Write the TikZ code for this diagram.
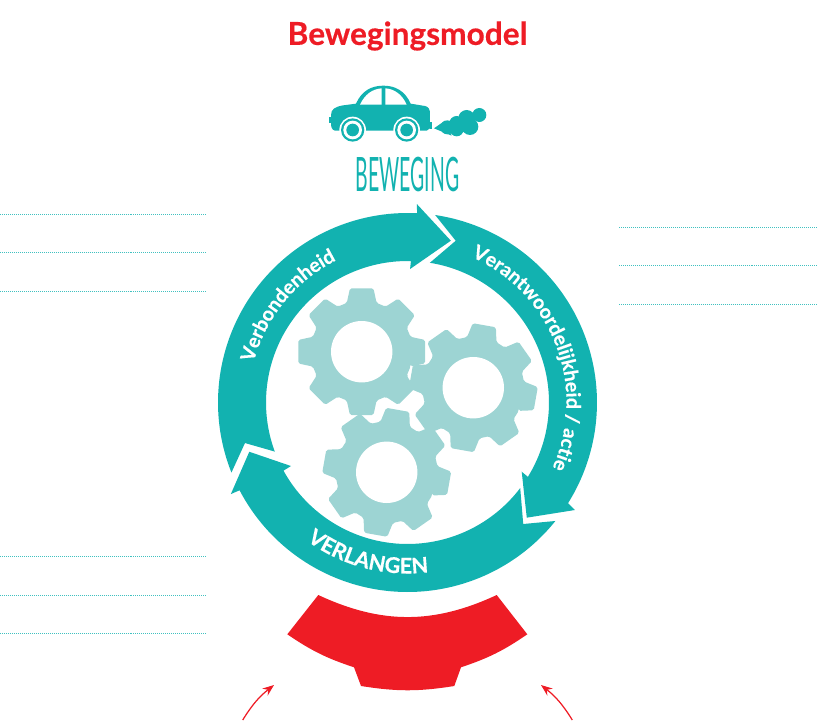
\documentclass[tikz,border=0pt]{standalone}
\usepackage{fontspec}
\setmainfont{Lato}
\newfontfamily\narrowfont[FakeStretch=0.41]{Lato}
\newfontfamily\heavyfont[UprightFont=* Bold, FakeBold=0.4]{Lato}
\usetikzlibrary{arrows.meta, decorations.text}
\definecolor{ringteal}{HTML}{12B2B0}
\definecolor{gearteal}{HTML}{9DD4D3}
\definecolor{modelred}{HTML}{EE1C25}
\tikzset{
  ringfill/.style={fill=ringteal},
  gearfill/.style={fill=gearteal, rounded corners=1pt},
  noteline/.style={ringteal!80, line width=0.5pt, dash pattern=on 0.567pt off 0.567pt},
  redarrow/.style={modelred, line width=0.7pt, -{Stealth[length=6.5pt, width=5pt]}},
}
\begin{document}
\begin{tikzpicture}[x=0.02cm, y=0.02cm]
	\useasboundingbox (0,0) rectangle (818,-720);

	\node[font=\heavyfont\fontsize{18}{20}\selectfont, text=modelred] (title) at (407.5,-36) {Bewegingsmodel};
	\node[font=\narrowfont\fontsize{27}{30}\selectfont, text=ringteal] (beweging) at (407.5,-175) {BEWEGING};

	% lines
	\foreach \y in {214,252.5,291,556.5,595,633}
		\draw[noteline] (0,-\y) -- (206,-\y);
	\foreach \y in {227,265.5,304}
		\draw[noteline] (619,-\y) -- (818,-\y);

	% car
	\begin{scope}[shift={(310,-70)}, x=0.00667cm, y=-0.00667cm]
		\fill[ringteal] (63,135) .. controls (63,118) and (75,110) .. (100,106) -- (138,101)
			.. controls (155,62) and (185,47) .. (220,47) .. controls (255,47) and (285,62) .. (302,101)
			-- (345,108) .. controls (355,110) and (360,118) .. (360,130) -- (360,175) -- (350,182)
			-- (75,182) .. controls (65,180) and (63,170) .. (63,160) -- cycle;
		\fill[ringteal] (56,140) rectangle (63,160);
		\fill[ringteal] (360,155) rectangle (367,178);
		\fill[white] (150,104) .. controls (165,72) and (188,57) .. (215,55) -- (215,104) -- cycle;
		\fill[white] (226,55) .. controls (255,57) and (277,75) .. (290,104) -- (226,104) -- cycle;
		\foreach \cx in {128,290} {
			\fill[white] (\cx,180) circle (40);
			\fill[ringteal] (\cx,180) circle (35);
			\fill[white] (\cx,180) circle (28);
			\fill[ringteal] (\cx,180) circle (19);
		}
		% smoke
		\fill[ringteal] (372,175) -- (405,152) -- (425,197) -- cycle;
		\foreach \cx/\cy/\r in {508/135/21, 470/145/25, 440/160/22, 480/170/25, 440/178/21, 412/172/21, 455/165/22}
			\fill[ringteal] (\cx,\cy) circle (\r);
	\end{scope}

	% gears
	\foreach \cx/\cy/\rot in {361.7/351.7/0, 473.3/387.7/-10, 386.7/472.3/-10} {
		\begin{scope}[shift={(\cx,-\cy)}, rotate=\rot]
			\fill[gearfill] (-17:51) \foreach \a in {0,45,...,315} {
				-- ({\a-17}:51) -- ({\a-10.5}:64.5) -- ({\a+10.5}:64.5) -- ({\a+17}:51)} -- cycle;
		\end{scope}
	}
	\foreach \cx/\cy in {361.7/351.7, 473.3/387.7, 386.7/472.3}
		\fill[white] (\cx,-\cy) circle (30.7);

	% ring
	\begin{scope}[shift={(407.5,-402.5)}]
		\fill[ringfill] (201.7:189.5) arc[start angle=201.7, end angle=87.1, radius=189.5]
			-- (87.3:198.7) -- (75:167.5) -- (88.9:133.5) -- (88.6:141.5)
			arc[start angle=88.6, end angle=200.3, radius=141.5] -- (194:167.5) -- cycle;
		\fill[ringfill] (81.6:189.5) arc[start angle=81.6, end angle=-32.1, radius=189.5]
			-- (-32.7:199) -- (-44:165.8) -- (-31.2:133.5) -- (-31.7:141.5)
			arc[start angle=-31.7, end angle=80.9, radius=141.5] -- (73.4:168.8) -- cycle;
		\fill[ringfill] (-38.7:189.5) arc[start angle=-38.7, end angle=-152.4, radius=189.5]
			-- (-152.6:199) -- (-162.7:165.7) -- (-151.4:132.7) -- (-151.2:141.5)
			arc[start angle=-151.2, end angle=-37.2, radius=141.5] -- (-46.4:167.8) -- cycle;

		\path[postaction={decorate}, decoration={text along path, text align=center,
			text={|\heavyfont\fontsize{11.2}{13}\selectfont\color{white}|Verbondenheid}}]
			(170:159) arc[start angle=170, end angle=112, radius=159];
		\path[postaction={decorate}, decoration={text along path, text align=center,
			text={|\heavyfont\fontsize{11.2}{13}\selectfont\color{white}|Verantwoordelijkheid / actie}}]
			(70:159) arc[start angle=70, end angle=-28, radius=159];
		\path[postaction={decorate}, decoration={text along path, text align=center,
			text={|\heavyfont\fontsize{12.3}{14}\selectfont\color{white}|VERLANGEN}}]
			(232:171) arc[start angle=232, end angle=279, radius=171];
	\end{scope}

	% red part
	\coordinate (TL) at (318.3,-595);
	\coordinate (TR) at (496.7,-595);
	\coordinate (R) at (527.3,-634.3);
	\coordinate (RA) at (461,-667.3);
	\coordinate (RB) at (454.3,-686);
	\coordinate (LB) at (361,-686);
	\coordinate (LA) at (354,-667.3);
	\coordinate (L) at (287.3,-634.3);
	\fill[modelred] (TL) to[bend right=25] (TR) -- (R) to[bend left=8] (RA) -- (RB)
		to[bend left=9] (LB) -- (LA) to[bend left=8] (L) -- cycle;

	\coordinate (leftfoot) at (242.7,-720);
	\coordinate (lefthead) at (274,-685);
	\coordinate (rightfoot) at (572.3,-720);
	\coordinate (righthead) at (541,-685);
	\draw[redarrow] (leftfoot) to[bend left=10] (lefthead);
	\draw[redarrow] (rightfoot) to[bend right=10] (righthead);
\end{tikzpicture}
\end{document}
